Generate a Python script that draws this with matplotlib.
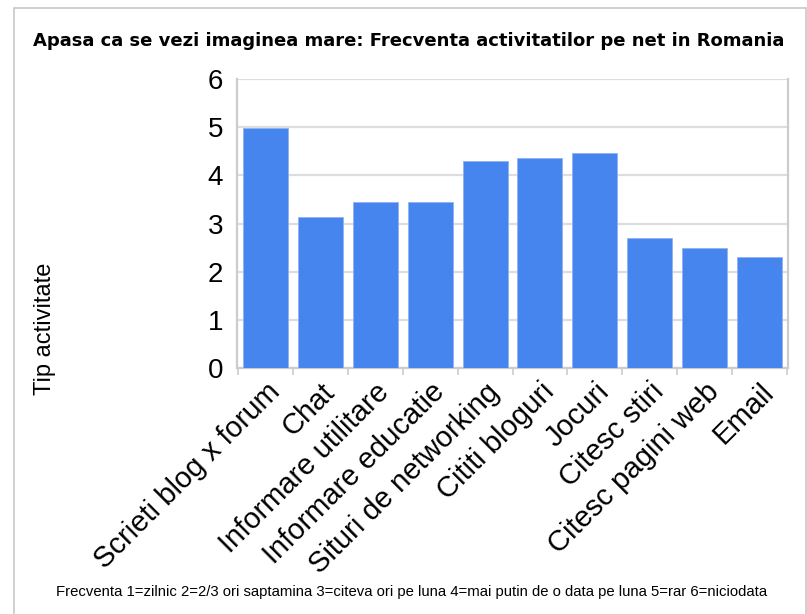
import matplotlib.pyplot as plt
from matplotlib.patches import Rectangle
import numpy as np

# Data
categories = ['Scrieti blog x forum', 'Chat', 'Informare utilitare', 'Informare educatie',
              'Situri de networking', 'Cititi bloguri', 'Jocuri', 'Citesc stiri',
              'Citesc pagini web', 'Email']
values = [4.98, 3.13, 3.44, 3.44, 4.29, 4.36, 4.47, 2.69, 2.50, 2.31]
yticks = [0, 1, 2, 3, 4, 5, 6]

title = 'Apasa ca se vezi imaginea mare: Frecventa activitatilor pe net in Romania'
ylabel = 'Tip activitate'
footnote = ('Frecventa 1=zilnic 2=2/3 ori saptamina 3=citeva ori pe luna '
            '4=mai putin de o data pe luna 5=rar 6=niciodata')

plt.rcParams['font.family'] = ['Liberation Sans', 'DejaVu Sans']

fig = plt.figure(figsize=(8.07, 6.14), dpi=100)
W, H = 807, 614

# outer frame
fig.patches.append(Rectangle((14 / W, -0.05), (806 - 14) / W, 1.05 - 8 / H,
                             transform=fig.transFigure, fill=False,
                             edgecolor='#c8c8c8', linewidth=1.2))

ax = fig.add_axes([237 / W, 1 - 368 / H, (788 - 237) / W, (368 - 79) / H])

x = np.arange(len(categories))
ax.bar(x, values, width=0.82, color='#4684ee', edgecolor='#8fb2f2',
       linewidth=0.6, zorder=3)

ax.set_xlim(-0.52, len(categories) - 0.48)
ax.set_ylim(0, 6)
ax.set_yticks(yticks)
ax.set_yticklabels([str(t) for t in yticks], fontsize=20)
ax.yaxis.grid(True, color='#dddddd', linewidth=1.6, zorder=0)
ax.tick_params(axis='y', length=0, pad=10)

ax.set_xticks(x)
ax.set_xticklabels(categories, rotation=45, ha='right', rotation_mode='anchor',
                   fontsize=21)
ax.set_xticks(np.arange(-0.5, len(categories)), minor=True)
ax.tick_params(axis='x', which='major', length=0, pad=7)
ax.tick_params(axis='x', which='minor', length=5, color='#cccccc', width=1.2)

ax.spines['top'].set_visible(False)
for side in ['left', 'right', 'bottom']:
    ax.spines[side].set_color('#cccccc')
    ax.spines[side].set_linewidth(1.6)

fig.text(409 / W, 1 - 41 / H, title, ha='center', va='center',
         fontsize=13, fontweight='bold', family='DejaVu Sans')
fig.text(45 / W, 1 - 329 / H, ylabel, ha='center', va='center',
         rotation=90, fontsize=17)
fig.text(412 / W, 1 - 592 / H, footnote, ha='center', va='center',
         fontsize=10.7)

fig.savefig('out.png', dpi=100, facecolor='white')
